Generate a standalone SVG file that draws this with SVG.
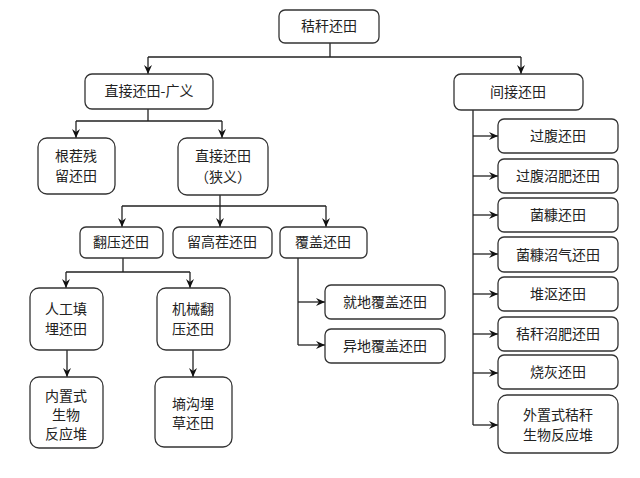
<svg xmlns="http://www.w3.org/2000/svg" width="640" height="478" viewBox="0 0 640 478">
<defs>
<marker id="ah" markerWidth="10" markerHeight="10" refX="9" refY="5" orient="auto" markerUnits="userSpaceOnUse">
<path d="M0,1 L9,5 L0,9 L3,5 Z" fill="#111"/>
</marker>
<style>
.n rect{fill:#fff;stroke:#333;stroke-width:1.3}
.n text{font-family:"Noto Sans CJK SC","Noto Sans CJK TC",sans-serif;font-size:14px;fill:#222;text-anchor:middle}
.c path{fill:none;stroke:#222;stroke-width:1.3}
.c .a{marker-end:url(#ah)}
</style>
</defs>
<rect width="640" height="478" fill="#fff"/>
<g class="c">
<path d="M330,43 V57 M148,57 H521"/>
<path class="a" d="M148,57 V74"/>
<path class="a" d="M521,57 V74"/>
<path d="M148,109 V121 M76,121 H222"/>
<path class="a" d="M76,121 V138"/>
<path class="a" d="M222,121 V138"/>
<path d="M220,195 V206 M122,206 H326"/>
<path class="a" d="M122,206 V227"/>
<path class="a" d="M220,206 V227"/>
<path class="a" d="M326,206 V227"/>
<path d="M123,258 V272 M66,272 H190"/>
<path class="a" d="M66,272 V288"/>
<path class="a" d="M190,272 V288"/>
<path class="a" d="M67,350 V377"/>
<path class="a" d="M193,350 V377"/>
<path d="M298,258 V345"/>
<path class="a" d="M298,302 H325"/>
<path class="a" d="M298,345 H325"/>
<path d="M473,110 V425"/>
<path class="a" d="M473,136 H498"/>
<path class="a" d="M473,176 H498"/>
<path class="a" d="M473,215 H498"/>
<path class="a" d="M473,254 H498"/>
<path class="a" d="M473,294 H498"/>
<path class="a" d="M473,334 H498"/>
<path class="a" d="M473,373 H498"/>
<path class="a" d="M473,425 H498"/>
</g>
<g class="n" id="root"><rect x="279" y="10" width="100" height="33" rx="6"/><text x="329" y="31">秸秆还田</text></g>
<g class="n" id="direct"><rect x="85" y="74" width="128" height="35" rx="7"/><text x="149" y="96">直接还田-广义</text></g>
<g class="n" id="indirect"><rect x="454" y="74" width="129" height="36" rx="7"/><text x="518" y="97">间接还田</text></g>
<g class="n" id="stubble"><rect x="38" y="138" width="77" height="56" rx="9"/><text x="76" y="161">根茬残</text><text x="76" y="181">留还田</text></g>
<g class="n" id="narrow"><rect x="178" y="138" width="90" height="57" rx="9"/><text x="223" y="161">直接还田</text><text x="223" y="182">（狭义）</text></g>
<g class="n" id="plow"><rect x="80" y="227" width="83" height="31" rx="6"/><text x="121" y="247">翻压还田</text></g>
<g class="n" id="highstub"><rect x="173" y="227" width="99" height="31" rx="6"/><text x="222" y="247">留高茬还田</text></g>
<g class="n" id="cover"><rect x="280" y="227" width="87" height="31" rx="6"/><text x="323" y="247">覆盖还田</text></g>
<g class="n" id="manual"><rect x="30" y="288" width="73" height="62" rx="9"/><text x="66" y="314">人工填</text><text x="66" y="334">埋还田</text></g>
<g class="n" id="mech"><rect x="157" y="288" width="73" height="62" rx="9"/><text x="193" y="314">机械翻</text><text x="193" y="334">压还田</text></g>
<g class="n" id="inner"><rect x="30" y="377" width="73" height="71" rx="9"/><text x="66" y="401">内置式</text><text x="66" y="420">生物</text><text x="66" y="439">反应堆</text></g>
<g class="n" id="ditch"><rect x="155" y="377" width="77" height="70" rx="9"/><text x="193" y="409">墒沟埋</text><text x="193" y="428">草还田</text></g>
<g class="n" id="local"><rect x="325" y="285" width="120" height="34" rx="6"/><text x="385" y="307">就地覆盖还田</text></g>
<g class="n" id="remote"><rect x="325" y="329" width="120" height="34" rx="6"/><text x="385" y="351">异地覆盖还田</text></g>
<g class="n" id="r1"><rect x="498" y="119" width="120" height="34" rx="6"/><text x="558" y="141">过腹还田</text></g>
<g class="n" id="r2"><rect x="498" y="159" width="120" height="34" rx="6"/><text x="558" y="181">过腹沼肥还田</text></g>
<g class="n" id="r3"><rect x="498" y="198" width="120" height="34" rx="6"/><text x="558" y="220">菌糠还田</text></g>
<g class="n" id="r4"><rect x="498" y="237" width="120" height="35" rx="6"/><text x="558" y="260">菌糠沼气还田</text></g>
<g class="n" id="r5"><rect x="498" y="277" width="120" height="34" rx="6"/><text x="558" y="299">堆沤还田</text></g>
<g class="n" id="r6"><rect x="498" y="317" width="120" height="34" rx="6"/><text x="558" y="339">秸秆沼肥还田</text></g>
<g class="n" id="r7"><rect x="498" y="355" width="120" height="34" rx="6"/><text x="558" y="377">烧灰还田</text></g>
<g class="n" id="r8"><rect x="498" y="395" width="120" height="58" rx="9"/><text x="558" y="420">外置式秸秆</text><text x="558" y="440">生物反应堆</text></g>
</svg>
